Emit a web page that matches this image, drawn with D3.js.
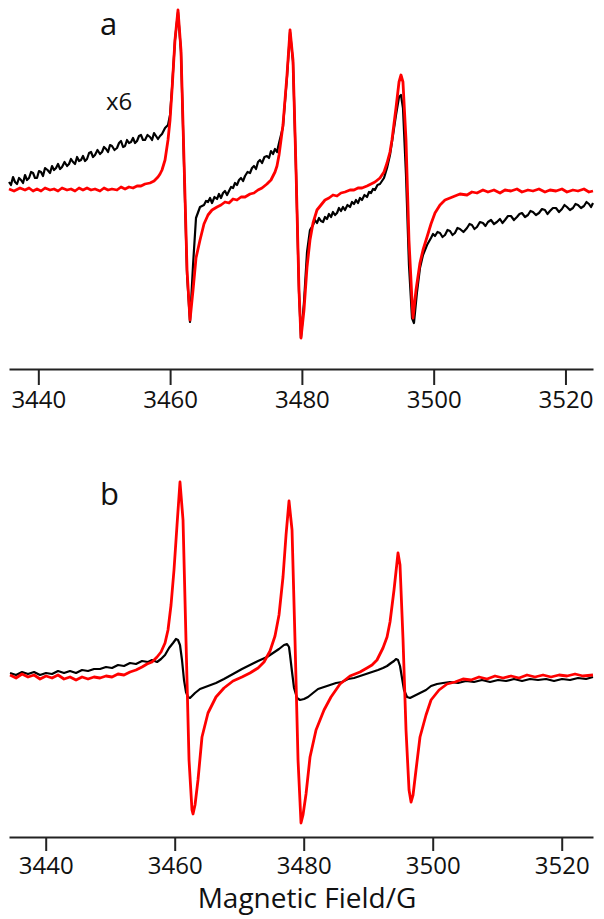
<!DOCTYPE html>
<html><head><meta charset="utf-8">
<script src="https://cdn.jsdelivr.net/npm/d3@7"></script>
<style>html,body{margin:0;padding:0;background:#fff;}svg{display:block;}</style>
</head><body>
<script>
// ---------- DATA (field in G, intensity in arbitrary units) ----------
const fieldTicks = [3440, 3460, 3480, 3500, 3520];
const tickLabels = ["3440", "3460", "3480", "3500", "3520"];
const xLabel = "Magnetic Field/G";
const panelLabels = ["a", "b"];
const scaleNote = "x6";

// Panel a, red trace
const redA = [[3435.55,0.5],[3436.31,-0.5],[3437.22,1],[3437.98,0],[3438.59,1],[3439.20,-0.5],[3439.80,0.5],[3440.41,-0.5],[3441.02,1],[3441.78,0],[3442.38,0.5],[3442.99,-0.5],[3443.60,1],[3444.36,0],[3444.96,0.5],[3445.57,-0.5],[3446.18,1],[3446.78,0],[3447.39,1],[3448.00,0],[3448.60,0.5],[3449.36,-0.5],[3449.97,1],[3450.58,0],[3451.18,0.5],[3451.94,0],[3452.55,1.5],[3453.16,0.5],[3453.76,1.5],[3454.37,1],[3454.98,2],[3455.58,2],[3456.19,3],[3456.95,3.5],[3457.56,4.5],[3458.16,6.5],[3458.47,8],[3458.77,10],[3459.23,15],[3459.68,25],[3459.99,35],[3460.29,50],[3460.74,75],[3461.20,90],[3461.65,70],[3462.11,15],[3462.57,-40],[3463.02,-65],[3463.48,-50],[3463.93,-34],[3464.54,-25],[3465.14,-17],[3465.75,-12.5],[3466.36,-10],[3467.12,-8.5],[3467.72,-7.5],[3468.33,-6],[3468.94,-6.5],[3469.55,-4.5],[3470.15,-5],[3470.76,-3.5],[3471.37,-3.5],[3472.13,-2],[3472.73,-1.5],[3473.34,0],[3473.95,1],[3474.70,3],[3475.31,5],[3475.92,9],[3476.22,12],[3476.53,17.5],[3477.13,32.5],[3477.74,57.5],[3478.20,80],[3478.65,65],[3479.11,10],[3479.56,-50],[3479.86,-74],[3480.32,-60],[3480.78,-38.5],[3481.23,-25],[3481.69,-16.5],[3482.29,-10],[3482.90,-7.5],[3483.51,-5],[3484.11,-4],[3484.72,-2.5],[3485.33,-3],[3485.93,-1.5],[3486.54,-1],[3487.30,0],[3487.91,0],[3488.51,1],[3489.12,1],[3489.88,2],[3490.49,3],[3491.09,4],[3491.85,6],[3492.46,9],[3492.92,13.5],[3493.37,19],[3493.67,25],[3494.28,41],[3494.74,54],[3495.04,57.5],[3495.34,54],[3495.80,25],[3496.25,-25],[3496.71,-55],[3496.86,-64],[3497.32,-50],[3497.92,-36.5],[3498.38,-30],[3498.99,-23.5],[3499.59,-17],[3500.20,-11.5],[3500.96,-7.5],[3501.72,-5],[3502.48,-4],[3503.23,-3],[3503.99,-2],[3505.06,-2.5],[3505.81,-1],[3506.57,-1.5],[3507.48,0],[3508.24,-1],[3509.15,0],[3510.06,-1.5],[3510.82,0],[3511.73,-0.5],[3512.64,0.5],[3513.40,-1],[3514.31,0],[3515.07,-0.5],[3515.98,0.5],[3516.89,-1],[3517.65,0],[3518.56,-0.5],[3519.47,0.5],[3520.23,-1],[3521.14,0],[3521.90,-0.5],[3522.81,0.5],[3523.57,-1],[3524.18,-0.5]];

// Panel a, black trace (x6)
const blackA = [[3435.55,4],[3435.85,2.5],[3436.16,6.5],[3436.46,4],[3436.77,3],[3437.07,6],[3437.37,5],[3437.68,3.5],[3437.98,7.5],[3438.28,5],[3438.59,6],[3438.90,9],[3439.20,8.5],[3439.50,6],[3439.80,6],[3440.10,9.5],[3440.41,9],[3440.71,7],[3441.02,11],[3441.40,10],[3441.78,8.5],[3442.08,12],[3442.38,10],[3442.69,11],[3442.99,13],[3443.30,10.5],[3443.60,11.5],[3443.98,14],[3444.36,12],[3444.66,13],[3444.96,15.5],[3445.27,14],[3445.57,13],[3445.88,16.5],[3446.18,14.5],[3446.48,15],[3446.78,17],[3447.09,14.5],[3447.39,15.5],[3447.70,18.5],[3448.00,19],[3448.30,16.5],[3448.60,17.5],[3448.98,20],[3449.36,18],[3449.67,19],[3449.97,21.5],[3450.28,20.5],[3450.58,19],[3450.88,22.5],[3451.18,22],[3451.56,20],[3451.94,21],[3452.25,23.5],[3452.55,24.5],[3452.86,21.5],[3453.16,22],[3453.46,25],[3453.76,23.5],[3454.07,24],[3454.37,26],[3454.68,23.5],[3454.98,24.5],[3455.28,27],[3455.58,27.5],[3455.89,25],[3456.19,25],[3456.57,27.5],[3456.95,26.5],[3457.26,25],[3457.56,28.5],[3457.86,27],[3458.16,25.5],[3458.47,27],[3458.77,28],[3459.23,31],[3459.68,32.5],[3459.99,37.5],[3460.29,51],[3460.74,75],[3461.20,89],[3461.65,69],[3462.11,12.5],[3462.57,-42.5],[3463.02,-66],[3463.48,-37.5],[3463.93,-14],[3464.54,-8.5],[3465.14,-7.5],[3465.45,-5.5],[3465.75,-6],[3466.06,-4],[3466.36,-6.5],[3466.74,-3.5],[3467.12,-4.5],[3467.42,-2],[3467.72,-4],[3468.03,-1.5],[3468.33,-0.5],[3468.64,-2.5],[3468.94,-0.5],[3469.25,1.5],[3469.55,1],[3469.85,3.5],[3470.15,2.5],[3470.46,5],[3470.76,6],[3471.07,4.5],[3471.37,7],[3471.75,9],[3472.13,8.5],[3472.43,11],[3472.73,12],[3473.04,10.5],[3473.34,14],[3473.64,15],[3473.95,13.5],[3474.32,16.5],[3474.70,17],[3475.01,16],[3475.31,19.5],[3475.62,18],[3475.92,20.5],[3476.22,19],[3476.53,23.5],[3477.13,31.5],[3477.74,56.5],[3478.20,79],[3478.65,64],[3479.11,9],[3479.56,-51],[3479.86,-74],[3480.32,-56],[3480.78,-31],[3481.23,-20],[3481.69,-17.5],[3481.99,-15],[3482.29,-16.5],[3482.60,-14],[3482.90,-15.5],[3483.21,-16],[3483.51,-13.5],[3483.81,-14.5],[3484.11,-12],[3484.42,-13.5],[3484.72,-11],[3485.03,-12.5],[3485.33,-11.5],[3485.63,-9],[3485.93,-10.5],[3486.24,-8.5],[3486.54,-10],[3486.92,-7.5],[3487.30,-8.5],[3487.61,-6],[3487.91,-7],[3488.21,-5],[3488.51,-6.5],[3488.82,-4],[3489.12,-5],[3489.50,-2.5],[3489.88,-3.5],[3490.19,-1],[3490.49,-1.5],[3490.79,0.5],[3491.09,0],[3491.47,2.5],[3491.85,3],[3492.46,6],[3492.92,11],[3493.37,17.5],[3493.83,27.5],[3494.28,37.5],[3494.74,46.5],[3495.04,47.5],[3495.34,41],[3495.80,7.5],[3496.25,-37.5],[3496.71,-64],[3497.01,-66.5],[3497.47,-51],[3497.92,-39],[3498.38,-32.5],[3498.99,-27.5],[3499.59,-24],[3499.90,-22],[3500.20,-23],[3500.58,-21],[3500.96,-21.5],[3501.34,-23.5],[3501.72,-22.5],[3502.10,-20],[3502.48,-20.5],[3502.86,-22.5],[3503.23,-21.5],[3503.61,-19],[3503.99,-19.5],[3504.52,-21],[3505.06,-19],[3505.44,-17],[3505.81,-17.5],[3506.19,-19.5],[3506.57,-18.5],[3507.02,-16],[3507.48,-16.5],[3507.86,-18],[3508.24,-16],[3508.70,-15],[3509.15,-17],[3509.60,-16],[3510.06,-14.5],[3510.44,-16.5],[3510.82,-15],[3511.28,-13],[3511.73,-13],[3512.18,-15],[3512.64,-13.5],[3513.02,-12],[3513.40,-11.5],[3513.86,-13.5],[3514.31,-12.5],[3514.69,-10.5],[3515.07,-11],[3515.52,-12.5],[3515.98,-11.5],[3516.44,-9.5],[3516.89,-10],[3517.27,-12],[3517.65,-10.5],[3518.10,-9],[3518.56,-9],[3519.02,-11],[3519.47,-9.5],[3519.85,-7.5],[3520.23,-8.5],[3520.68,-10],[3521.14,-9],[3521.52,-7],[3521.90,-7.5],[3522.36,-9],[3522.81,-8],[3523.19,-6],[3523.57,-7],[3523.88,-8.5],[3524.18,-6.5]];

// Panel b, red trace
const redB = [[3434.47,1],[3435.40,-0.5],[3436.33,1.5],[3437.26,0],[3438.19,1],[3439.12,-1],[3440.05,0.5],[3440.98,-0.5],[3441.91,1],[3442.84,-1],[3443.77,0],[3444.70,-1.5],[3445.63,0],[3446.56,-1],[3447.49,0],[3448.42,-0.5],[3449.35,0.5],[3450.28,0],[3451.21,1.5],[3452.14,1],[3453.07,2.5],[3454.00,3.5],[3454.93,5],[3455.71,6.5],[3456.48,7.5],[3457.26,10],[3457.88,12.5],[3458.50,17],[3458.96,23.5],[3459.43,36],[3459.89,53.5],[3460.36,76],[3460.82,97.5],[3461.29,78.5],[3461.75,18.5],[3462.22,-41.5],[3462.68,-66.5],[3462.84,-68.5],[3463.15,-64],[3463.61,-51.5],[3464.23,-30],[3465.16,-18],[3466.40,-10],[3467.64,-5.5],[3469.04,-2],[3470.43,0],[3471.67,2],[3472.92,4.5],[3473.85,7.5],[3474.78,13],[3475.55,20.5],[3476.17,31],[3476.79,50],[3477.26,71],[3477.72,88],[3478.19,73.5],[3478.65,18.5],[3479.12,-41.5],[3479.58,-73],[3479.89,-69],[3480.36,-58.5],[3480.98,-40],[3481.91,-26.5],[3483.15,-16.5],[3484.23,-10],[3485.63,-3.5],[3487.18,0.5],[3488.73,2.5],[3489.81,4.5],[3490.59,6],[3491.36,8.5],[3492.29,14.5],[3492.92,20],[3493.38,27.5],[3494.00,43.5],[3494.62,62],[3494.93,56],[3495.40,18.5],[3495.86,-26.5],[3496.33,-56.5],[3496.64,-62.5],[3496.95,-59],[3497.41,-46.5],[3498.03,-30],[3498.96,-19],[3499.74,-11.5],[3500.98,-6.5],[3502.22,-3.5],[3503.46,-2.5],[3504.70,-1],[3505.94,-1.5],[3507.18,0],[3508.42,-1],[3509.66,0.5],[3510.90,-0.5],[3512.14,0.5],[3513.38,-0.5],[3514.62,1],[3515.86,0],[3517.10,1],[3518.34,0],[3519.58,1],[3520.82,0.5],[3522.06,1.5],[3523.30,0.5],[3524.85,1]];

// Panel b, black trace
const blackB = [[3434.47,2],[3435.40,1],[3436.33,2.5],[3437.26,1.5],[3438.19,2.5],[3439.12,1],[3440.05,2],[3440.98,1.5],[3441.91,3],[3442.84,2],[3443.77,3],[3444.70,2],[3445.63,3.5],[3446.56,3],[3447.49,4],[3448.42,4],[3449.35,5],[3450.28,4.5],[3451.21,6],[3452.14,5.5],[3453.07,7],[3454.00,6.5],[3454.93,8],[3455.86,7.5],[3456.48,8.5],[3457.26,7.5],[3457.88,9],[3458.50,11],[3459.12,14.5],[3459.74,17],[3460.20,19],[3460.51,18.5],[3460.82,16],[3461.13,8.5],[3461.44,-1.5],[3461.75,-7.5],[3462.06,-10],[3462.37,-10.5],[3463.15,-8],[3463.92,-6],[3465.16,-4.5],[3466.40,-3],[3467.64,-1],[3469.04,1.5],[3470.43,4],[3471.67,6],[3472.92,8],[3474.31,10],[3475.24,12],[3476.17,14],[3476.95,16],[3477.41,16.5],[3477.72,15],[3477.88,11],[3478.19,2.5],[3478.50,-5.5],[3478.96,-10.5],[3479.43,-11.5],[3480.05,-11],[3480.67,-10],[3481.44,-8],[3482.22,-6],[3483.15,-5],[3484.08,-4],[3485.01,-3],[3485.94,-2.5],[3486.87,-1],[3487.80,-0.5],[3488.73,0.5],[3489.66,1.5],[3490.59,2.5],[3491.52,3.5],[3492.29,4.5],[3492.92,5.5],[3493.54,7],[3494.00,8],[3494.31,9],[3494.62,8.5],[3494.93,5.5],[3495.24,-0.5],[3495.55,-6.5],[3496.02,-10],[3496.48,-10.5],[3497.10,-9.5],[3498.03,-8],[3498.96,-6.5],[3499.74,-4.5],[3500.67,-3.5],[3501.60,-3],[3502.68,-2.5],[3503.92,-3],[3505.16,-2],[3506.40,-2.5],[3507.64,-1.5],[3508.89,-2.5],[3510.13,-1.5],[3511.37,-2],[3512.61,-1],[3513.85,-2],[3515.09,-1],[3516.33,-1.5],[3517.57,-1],[3518.81,-2],[3520.05,-1],[3521.29,-1.5],[3522.53,-0.5],[3523.77,-1],[3524.85,0]];

// ---------- DRAWING ----------
const W = 604, H = 919;
const svg = d3.select("body").append("svg").attr("width", W).attr("height", H);
const FONT = "'Open Sans', 'Noto Sans', sans-serif";

const panels = [
  { label: panelLabels[0], red: redA, black: blackA,
    x: d3.scaleLinear().domain([3435.55, 3524.18]).range([9, 593]),
    y: d3.scaleLinear().domain([-100, 100]).range([390, -10]),
    axisY: 369, tickLen: 16, labelX: 100, labelY: 35, note: scaleNote },
  { label: panelLabels[1], red: redB, black: blackB,
    x: d3.scaleLinear().domain([3434.31, 3524.85]).range([9, 593]),
    y: d3.scaleLinear().domain([-100, 100]).range([877, 477]),
    axisY: 837, tickLen: 14, labelX: 100, labelY: 505, note: null }
];

panels.forEach(p => {
  const g = svg.append("g");
  const line = d3.line().x(d => p.x(d[0])).y(d => p.y(d[1]));

  g.append("path").datum(p.black).attr("d", line)
    .attr("fill", "none").attr("stroke", "#000").attr("stroke-width", 2.2)
    .attr("stroke-linejoin", "round");
  g.append("path").datum(p.red).attr("d", line)
    .attr("fill", "none").attr("stroke", "#ff0000").attr("stroke-width", 2.8)
    .attr("stroke-linejoin", "round");

  const axis = d3.axisBottom(p.x).tickValues(fieldTicks)
    .tickFormat((d, i) => tickLabels[i]).tickSize(p.tickLen).tickSizeOuter(0).tickPadding(6);
  const ag = g.append("g").attr("transform", `translate(0,${p.axisY})`).call(axis);
  ag.select(".domain").attr("stroke", "#222").attr("stroke-width", 2);
  ag.selectAll(".tick line").attr("stroke", "#222").attr("stroke-width", 2);
  ag.selectAll(".tick text").attr("fill", "#111").style("font-family", FONT).style("font-size", "24px");

  g.append("text").attr("x", p.labelX).attr("y", p.labelY).text(p.label)
    .style("font-family", FONT).style("font-size", "31px").attr("fill", "#111");
  if (p.note) {
    g.append("text").attr("x", 106).attr("y", 110).text(p.note)
      .style("font-family", FONT).style("font-size", "24px").attr("fill", "#111");
  }
});

svg.append("text").attr("x", 307).attr("y", 908).attr("text-anchor", "middle")
  .text(xLabel).style("font-family", FONT).style("font-size", "28px").attr("fill", "#111");
</script>
</body></html>
